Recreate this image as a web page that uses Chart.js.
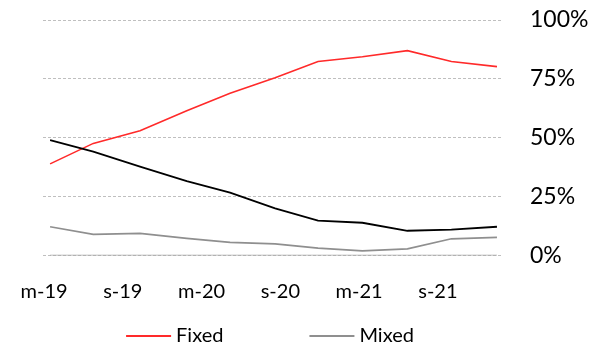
<!DOCTYPE html>
<html>
<head>
<meta charset="utf-8">
<script src="https://cdn.jsdelivr.net/npm/chart.js@4"></script>
<style>
html,body{margin:0;padding:0;background:#fff;}
#wrap{width:592px;height:345px;position:relative;}
</style>
</head>
<body>
<div id="wrap"><canvas id="c" width="592" height="345"></canvas></div>
<script>
// Observation dates, in months since March 2019
const months = [0.46, 3.75, 7.31, 10.87, 14.17, 17.6, 20.87, 24.25, 27.68, 31.03, 34.5];
// Axis tick labels and their positions (months since March 2019)
const tickLabels = ['m-19', 's-19', 'm-20', 's-20', 'm-21', 's-21'];
const tickMonths = [0, 6, 12, 18, 24, 30];
// Series (% share)
const fixed    = [38.9, 47.6, 53.0, 61.5, 68.9, 75.5, 82.4, 84.4, 87.0, 82.4, 80.2];
const variable = [49.0, 44.1, 37.7, 31.6, 26.7, 20.0, 14.8, 13.9, 10.5, 11.0, 12.2];
const mixed    = [12.2,  9.0,  9.4,  7.3,  5.6,  4.9,  3.1,  2.0,  2.8,  7.1,  7.7];
const other    = [0, 0, 0, 0, 0, 0, 0, 0, 0, 0, 0];
const yTicks = [0, 25, 50, 75, 100];

const pts = arr => arr.map((v, i) => ({x: months[i], y: v}));
const FONT = 'Lato, "Open Sans", sans-serif';

const legendItems = [
  {text: 'Fixed', color: '#ff2a2a'},
  {text: 'Mixed', color: '#8f8f8f'}
];

const customLegend = {
  id: 'customLegend',
  afterDraw(chart) {
    const ctx = chart.ctx;
    const ca = chart.chartArea;
    ctx.save();
    ctx.font = '20px ' + FONT;
    const lineW = 45, gapText = 5, gapItem = 86;
    let total = 0;
    legendItems.forEach((it, i) => {
      total += lineW + gapText + ctx.measureText(it.text).width;
      if (i < legendItems.length - 1) total += gapItem;
    });
    let x = (ca.left + ca.right) / 2 - 3 - total / 2;
    const y = 336;
    legendItems.forEach(it => {
      ctx.strokeStyle = it.color;
      ctx.lineWidth = 2;
      ctx.beginPath();
      ctx.moveTo(x, y);
      ctx.lineTo(x + lineW, y);
      ctx.stroke();
      x += lineW + gapText;
      ctx.fillStyle = '#000';
      ctx.textBaseline = 'middle';
      ctx.textAlign = 'left';
      ctx.fillText(it.text, x, y);
      x += ctx.measureText(it.text).width + gapItem;
    });
    ctx.restore();
  }
};

new Chart(document.getElementById('c'), {
  type: 'line',
  data: {
    datasets: [
      {label: 'Other', data: pts(other), borderColor: '#a6a6a6', borderWidth: 1.5, pointRadius: 0, tension: 0},
      {label: 'Mixed', data: pts(mixed), borderColor: '#8f8f8f', borderWidth: 1.7, pointRadius: 0, tension: 0},
      {label: 'Variable', data: pts(variable), borderColor: '#000000', borderWidth: 1.8, pointRadius: 0, tension: 0},
      {label: 'Fixed', data: pts(fixed), borderColor: '#ff2a2a', borderWidth: 1.6, pointRadius: 0, tension: 0}
    ]
  },
  options: {
    responsive: false,
    animation: false,
    devicePixelRatio: 1,
    layout: {padding: {left: 43, top: 20, right: 0, bottom: 30}},
    plugins: {legend: {display: false}, tooltip: {enabled: false}},
    scales: {
      x: {
        type: 'linear',
        min: -0.08,
        max: 34.96,
        grid: {display: false, drawTicks: false},
        border: {display: false},
        afterBuildTicks: s => { s.ticks = tickMonths.map(v => ({value: v})); },
        afterFit: s => { s.height = 59.5; s.paddingLeft = 0; s.paddingRight = 0; },
        ticks: {
          autoSkip: false, maxRotation: 0, padding: 24,
          color: '#000', font: {family: FONT, size: 20},
          callback: v => tickLabels[tickMonths.indexOf(v)]
        }
      },
      y: {
        position: 'right',
        min: 0, max: 100,
        afterBuildTicks: s => { s.ticks = yTicks.map(v => ({value: v})); },
        afterFit: s => { s.width = 89; s.paddingTop = 0; s.paddingBottom = 0; },
        grid: {color: '#bfbfbf', lineWidth: 1, drawTicks: false},
        border: {display: false, dash: [3, 2]},
        ticks: {padding: 27, color: '#000', font: {family: FONT, size: 23}, callback: v => v + '%'}
      }
    }
  },
  plugins: [customLegend]
});
</script>
</body>
</html>
